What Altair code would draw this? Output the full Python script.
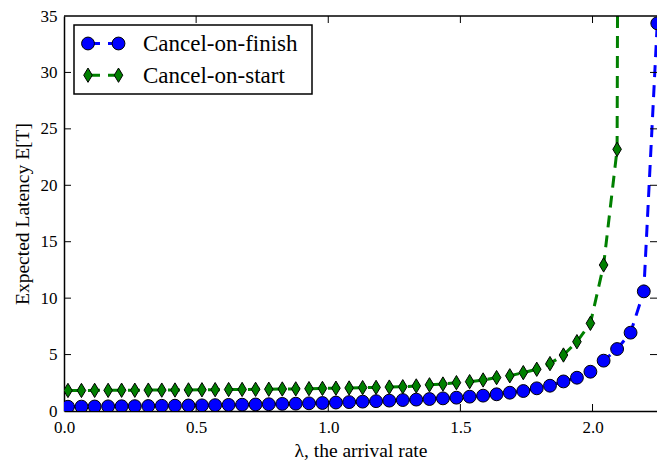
import altair as alt
import pandas as pd

# ---------------- data ----------------
series_names = ["Cancel-on-finish", "Cancel-on-start"]
series_colors = ["#0000ff", "#008000"]
series_shapes = ["circle", "M0,-1L0.6,0L0,1L-0.6,0Z"]
series_sizes = [165, 205]

lam = [0.015, 0.066, 0.116, 0.167, 0.218, 0.268, 0.319, 0.370, 0.420, 0.471,
       0.522, 0.572, 0.623, 0.674, 0.725, 0.775, 0.826, 0.877, 0.927, 0.978,
       1.029, 1.079, 1.130, 1.181, 1.231, 1.282, 1.333, 1.383, 1.434, 1.485,
       1.535, 1.586, 1.637, 1.687, 1.738, 1.789, 1.839, 1.890, 1.941, 1.992,
       2.042, 2.093, 2.144, 2.194, 2.245]

cancel_on_finish = [0.38, 0.39, 0.40, 0.41, 0.42, 0.43, 0.44, 0.46, 0.47, 0.49,
                    0.50, 0.52, 0.54, 0.56, 0.58, 0.60, 0.63, 0.65, 0.68, 0.71,
                    0.75, 0.79, 0.83, 0.87, 0.92, 0.97, 1.01, 1.06, 1.12, 1.18,
                    1.27, 1.36, 1.48, 1.62, 1.77, 2.01, 2.24, 2.62, 2.95, 3.48,
                    4.46, 5.49, 6.94, 10.6, 34.35]

cancel_on_start = [1.82, 1.82, 1.83, 1.83, 1.84, 1.84, 1.85, 1.85, 1.86, 1.87,
                   1.88, 1.89, 1.90, 1.91, 1.92, 1.93, 1.95, 1.96, 1.98, 2.00,
                   2.02, 2.04, 2.07, 2.09, 2.12, 2.15, 2.22, 2.32, 2.39, 2.51,
                   2.60, 2.75, 2.96, 3.12, 3.40, 3.70, 4.20, 4.96, 6.14, 7.77,
                   12.94, 23.19, 400.0]

x_ticks = [0.0, 0.5, 1.0, 1.5, 2.0]
y_ticks = [0, 5, 10, 15, 20, 25, 30, 35]

x_title = "λ, the arrival rate"
y_title = "Expected Latency E[T]"

# ---------------- build table ----------------
frames = []
for name, vals in zip(series_names, [cancel_on_finish, cancel_on_start]):
    frames.append(pd.DataFrame({"lam": lam[:len(vals)], "T": vals, "series": name}))
df = pd.concat(frames, ignore_index=True)

W, H = 593, 395
FONT = "Liberation Serif"

xscale = alt.Scale(domain=[0, 2.244], nice=False, zero=False)
yscale = alt.Scale(domain=[0, 35], nice=False)
color_scale = alt.Scale(domain=series_names, range=series_colors)
shape_scale = alt.Scale(domain=series_names, range=series_shapes)
size_scale = alt.Scale(domain=series_names, range=series_sizes)

x_axis = alt.Axis(values=x_ticks, format=".1f", labelFlush=False, labelOverlap=False,
                  tickSize=0, labelPadding=8, grid=False, domainColor="black",
                  domainWidth=1.5, labelFont=FONT, labelFontSize=17, labelColor="black",
                  titleFont=FONT, titleFontSize=19.5,
                  titleFontWeight="normal", titleColor="black", titleY=45,
                  titleBaseline="alphabetic")
y_axis = alt.Axis(values=y_ticks, format="d", labelFlush=False, labelOverlap=False,
                  tickSize=0, labelPadding=7, grid=False, domainColor="black",
                  domainWidth=1.5, labelFont=FONT, labelFontSize=17, labelColor="black",
                  titleFont=FONT, titleFontSize=19.5,
                  titleFontWeight="normal", titleColor="black", titleX=-35.5,
                  titleAngle=270, titleBaseline="alphabetic")


def X(field):
    return alt.X(field, scale=xscale, axis=x_axis, title=x_title)


def Y(field):
    return alt.Y(field, scale=yscale, axis=y_axis, title=y_title)


base = alt.Chart(df)
layers = []
for i, name in enumerate(series_names):
    sub = base.transform_filter(alt.datum.series == name)
    line = sub.mark_line(strokeDash=[12, 8], strokeWidth=3, clip=True).encode(
        x=X("lam:Q"), y=Y("T:Q"),
        color=alt.Color("series:N", scale=color_scale, legend=None),
    )
    pts = sub.mark_point(filled=True, opacity=1, stroke="black", strokeWidth=1,
                         clip=True).encode(
        x=X("lam:Q"), y=Y("T:Q"),
        fill=alt.Fill("series:N", scale=color_scale, legend=None),
        shape=alt.Shape("series:N", scale=shape_scale, legend=None),
        size=alt.Size("series:N", scale=size_scale, legend=None),
    )
    layers += [line, pts]

# inward ticks on all four sides and top spine
xt = alt.Chart(pd.DataFrame({"lam": x_ticks[1:]}))
yt = alt.Chart(pd.DataFrame({"T": y_ticks[1:-1]}))
tick_style = dict(color="black", strokeWidth=1)
layers += [
    xt.mark_rule(**tick_style).encode(x=X("lam:Q"), y=alt.value(H), y2=alt.value(H - 7)),
    xt.mark_rule(**tick_style).encode(x=X("lam:Q"), y=alt.value(0), y2=alt.value(7)),
    yt.mark_rule(**tick_style).encode(y=Y("T:Q"), x=alt.value(0), x2=alt.value(7)),
    yt.mark_rule(**tick_style).encode(y=Y("T:Q"), x=alt.value(W - 7), x2=alt.value(W)),
    alt.Chart(pd.DataFrame({"s": [0]})).mark_rule(color="black", strokeWidth=1.5).encode(
        x=alt.value(0), x2=alt.value(W), y=alt.value(0)),
]

# legend (matplotlib style: marker - dash - marker)
leg_df = pd.DataFrame({"series": series_names})
leg = alt.Chart(leg_df)
layers.append(
    alt.Chart(pd.DataFrame({"s": [0]})).mark_rect(fill="white", stroke="black",
                                                  strokeWidth=1.5).encode(
        x=alt.value(10), x2=alt.value(248), y=alt.value(9), y2=alt.value(78))
)
row_y = [27.5, 59.2]
for i, name in enumerate(series_names):
    r = leg.transform_filter(alt.datum.series == name)
    cy = row_y[i]
    layers.append(r.mark_rule(strokeDash=[12, 8], strokeWidth=3,
                              color=series_colors[i]).encode(
        x=alt.value(24), x2=alt.value(54.5), y=alt.value(cy)))
    for px in (24, 54.5):
        layers.append(r.mark_point(filled=True, opacity=1, stroke="black",
                                   strokeWidth=1, fill=series_colors[i],
                                   shape=series_shapes[i], size=series_sizes[i]).encode(
            x=alt.value(px), y=alt.value(cy)))
    layers.append(r.mark_text(align="left", baseline="alphabetic", font=FONT,
                              fontSize=23, color="black").encode(
        x=alt.value(79), y=alt.value(cy + 7.8), text="series:N"))

chart = alt.layer(*layers).properties(
    width=W, height=H,
    autosize=alt.AutoSizeParams(type="none"),
    padding={"left": 64, "top": 16, "right": 0, "bottom": 49},
).configure_view(strokeWidth=0)

chart.save("out.html", embed_options={"renderer": "svg", "actions": False})
